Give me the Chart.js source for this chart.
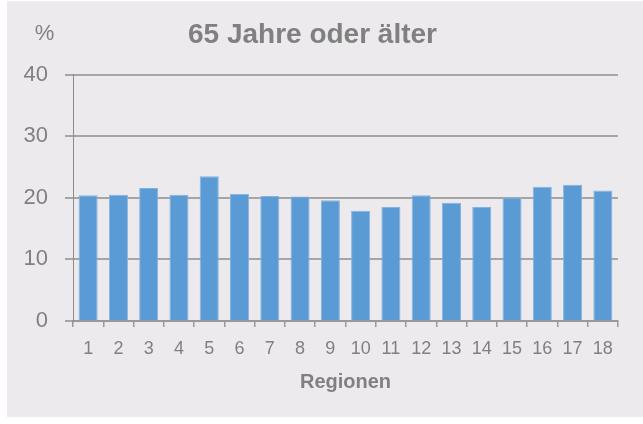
<!DOCTYPE html>
<html>
<head>
<meta charset="utf-8">
<script src="https://cdn.jsdelivr.net/npm/chart.js@4/dist/chart.umd.min.js"></script>
<style>
  body { margin: 0; background: #fff; }
  #panel { position: absolute; left: 7px; top: 1px; width: 636px; height: 416px; background: #ECEAED; }
</style>
</head>
<body>
<div id="panel"><canvas id="c" width="636" height="416"></canvas></div>
<script>
const regions = ['1','2','3','4','5','6','7','8','9','10','11','12','13','14','15','16','17','18'];
const share65 = [20.4, 20.5, 21.6, 20.5, 23.5, 20.6, 20.3, 20.2, 19.6, 17.9, 18.5, 20.4, 19.2, 18.5, 20.0, 21.8, 22.1, 21.2];
const yTicks = [0, 10, 20, 30, 40];

const grey = '#808080';

// "%" unit above the y axis
const unitLabel = {
  id: 'unitLabel',
  afterDraw(chart) {
    const ctx = chart.ctx;
    ctx.save();
    ctx.font = '22px "Liberation Sans", Arial, sans-serif';
    ctx.fillStyle = grey;
    ctx.textAlign = 'center';
    ctx.textBaseline = 'middle';
    ctx.fillText('%', 37.5, 33);
    ctx.restore();
  }
};

new Chart(document.getElementById('c'), {
  type: 'bar',
  data: {
    labels: regions,
    datasets: [{
      data: share65,
      backgroundColor: '#5B9BD5',
      borderColor: '#86B4E0',
      borderWidth: 1,
      barPercentage: 1,
      categoryPercentage: 0.63
    }]
  },
  options: {
    responsive: false,
    animation: false,
    layout: { padding: { left: 0, right: 25, top: 0, bottom: 0 } },
    plugins: {
      legend: { display: false },
      tooltip: { enabled: false },
      title: {
        display: true,
        text: '65 Jahre oder älter',
        color: grey,
        font: { family: '"Liberation Sans", Arial, sans-serif', size: 28, weight: 'bold', lineHeight: 1.2 },
        padding: { top: 17, bottom: 23 }
      }
    },
    scales: {
      x: {
        grid: { drawOnChartArea: false, drawTicks: true, tickLength: 6, color: '#999', lineWidth: 1.5 },
        border: { color: '#999', width: 2 },
        ticks: {
          color: grey,
          padding: 11,
          maxRotation: 0,
          autoSkip: false,
          font: { family: '"Liberation Sans", Arial, sans-serif', size: 18 }
        },
        title: {
          display: true,
          text: 'Regionen',
          color: grey,
          font: { family: '"Liberation Sans", Arial, sans-serif', size: 20, weight: 'bold', lineHeight: 1.2 },
          padding: { top: 0, bottom: 23 }
        },
        afterFit(scale) { scale.height = 96; }
      },
      y: {
        min: 0,
        max: 40,
        grid: { color: '#A5A5A5', lineWidth: 2, tickLength: 8 },
        border: { color: '#8C8C8C', width: 1 },
        ticks: {
          stepSize: 10,
          color: grey,
          padding: 17,
          font: { family: '"Liberation Sans", Arial, sans-serif', size: 22 },
          callback: (v) => yTicks.includes(v) ? String(v) : ''
        },
        afterFit(scale) { scale.width = 66; }
      }
    }
  },
  plugins: [unitLabel]
});
</script>
</body>
</html>
